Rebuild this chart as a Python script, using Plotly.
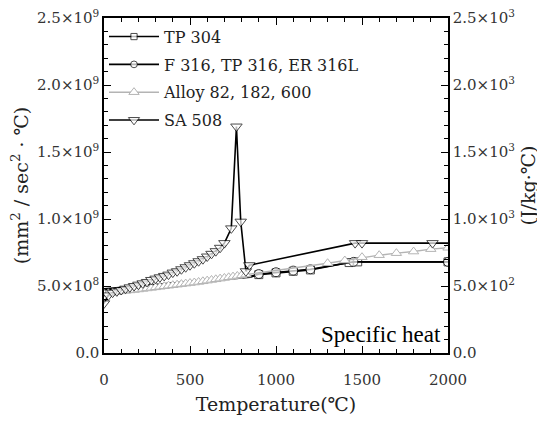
import plotly.graph_objects as go

# ---------------- data ----------------
tp304_T = [0, 850, 900, 1000, 1100, 1200, 1425, 1475, 2000]
tp304_v = [0.47e9, 0.565e9, 0.585e9, 0.598e9, 0.61e9, 0.62e9, 0.675e9, 0.68e9, 0.68e9]

f316_T = [0, 850, 900, 1000, 1100, 1200, 1450, 2000]
f316_v = [0.48e9, 0.57e9, 0.59e9, 0.603e9, 0.615e9, 0.625e9, 0.68e9, 0.68e9]

alloy_T = [0, 25, 50, 75, 100, 125, 150, 175, 200, 225, 250, 275, 300, 325, 350,
           375, 400, 425, 450, 475, 500, 525, 550, 575, 600, 625, 650, 675, 700,
           725, 750, 775, 800, 825, 1300, 1400, 1500, 1600, 1700, 1800, 1900, 2000]
alloy_v = [0.44e9, 0.445e9, 0.45e9, 0.455e9, 0.46e9, 0.463e9, 0.467e9, 0.47e9, 0.474e9,
           0.478e9, 0.482e9, 0.486e9, 0.49e9, 0.494e9, 0.498e9, 0.502e9, 0.506e9,
           0.51e9, 0.514e9, 0.518e9, 0.522e9, 0.526e9, 0.53e9, 0.535e9, 0.54e9,
           0.545e9, 0.55e9, 0.555e9, 0.56e9, 0.565e9, 0.57e9, 0.575e9, 0.58e9,
           0.585e9, 0.67e9, 0.69e9, 0.715e9, 0.73e9, 0.745e9, 0.757e9, 0.775e9, 0.785e9]

sa508_T = [0, 25, 50, 75, 100, 125, 150, 175, 200, 225, 250, 275, 300, 325, 350,
           375, 400, 425, 450, 475, 500, 525, 550, 575, 600, 625, 650, 675, 700,
           740, 770, 795, 825, 845, 1460, 1500, 1910, 2000]
sa508_v = [0.37e9, 0.43e9, 0.45e9, 0.46e9, 0.47e9, 0.48e9, 0.49e9, 0.50e9, 0.51e9,
           0.52e9, 0.53e9, 0.545e9, 0.555e9, 0.565e9, 0.575e9, 0.585e9, 0.60e9,
           0.61e9, 0.625e9, 0.64e9, 0.655e9, 0.67e9, 0.685e9, 0.70e9, 0.72e9,
           0.74e9, 0.76e9, 0.785e9, 0.82e9, 0.93e9, 1.69e9, 0.98e9, 0.61e9, 0.655e9,
           0.82e9, 0.82e9, 0.82e9, 0.82e9]

# marker visibility per point (0 = line only)
tp304_ms = [0, 0, 8, 8, 8, 8, 8, 8, 8]
f316_ms = [0, 0, 9, 9, 9, 9, 9, 9]
sa508_ms = [10] * (len(sa508_T) - 1) + [0]

left_tickvals = [0, 0.5e9, 1.0e9, 1.5e9, 2.0e9, 2.5e9]
left_ticktext = ["0.0", "5.0×10<sup>8</sup>", "1.0×10<sup>9</sup>", "1.5×10<sup>9</sup>",
                 "2.0×10<sup>9</sup>", "2.5×10<sup>9</sup>"]
right_tickvals = [0, 500, 1000, 1500, 2000, 2500]
right_ticktext = ["0.0", "5.0×10<sup>2</sup>", "1.0×10<sup>3</sup>", "1.5×10<sup>3</sup>",
                  "2.0×10<sup>3</sup>", "2.5×10<sup>3</sup>"]
x_tickvals = [0, 500, 1000, 1500, 2000]

FONT = "DejaVu Serif"
GREY = "#b4b4b4"
TXT = "#333"

fig = go.Figure()

fig.add_trace(go.Scatter(
    x=tp304_T, y=tp304_v, name="TP 304", mode="lines+markers", legendgroup="a",
    line=dict(color="black", width=1.6),
    marker=dict(symbol="square", size=tp304_ms, color="white",
                line=dict(width=1, color="black"))))
fig.add_trace(go.Scatter(
    x=f316_T, y=f316_v, name="F 316, TP 316, ER 316L", mode="lines+markers", legendgroup="b",
    line=dict(color="black", width=1.6),
    marker=dict(symbol="circle", size=f316_ms, color="white",
                line=dict(width=1, color="black"))))
fig.add_trace(go.Scatter(
    x=alloy_T, y=alloy_v, name="Alloy 82, 182, 600", mode="lines+markers", legendgroup="c",
    line=dict(color=GREY, width=1.4),
    marker=dict(symbol="triangle-up", size=9, color="white",
                line=dict(width=1, color=GREY))))
fig.add_trace(go.Scatter(
    x=sa508_T, y=sa508_v, name="SA 508", mode="lines+markers", legendgroup="d",
    line=dict(color="black", width=1.6),
    marker=dict(symbol="triangle-down", size=sa508_ms, color="white",
                line=dict(width=1, color="black"))))

# invisible anchor trace for the right axis
fig.add_trace(go.Scatter(x=[0], y=[0], yaxis="y2", mode="markers",
                         marker=dict(opacity=0), showlegend=False, hoverinfo="skip"))

fig.add_annotation(text="Specific heat", x=0.985, y=0.012, xref="paper", yref="paper",
                   xanchor="right", yanchor="bottom", showarrow=False,
                   font=dict(family="Liberation Serif", size=23, color="black"))

axis_common = dict(showgrid=False, zeroline=False, showline=True, linecolor="black",
                   linewidth=1.5, ticks="inside", ticklen=7, tickcolor="black",
                   automargin=False, ticklabeloverflow="allow",
                   tickfont=dict(family=FONT, size=15, color=TXT))

# page body has an 8px default margin, so the figure is sized to fit the window
fig.update_layout(
    width=537, height=413,
    margin=dict(l=96, r=97, t=10, b=68),
    paper_bgcolor="white", plot_bgcolor="white",
    font=dict(family=FONT, color="black"),
    xaxis=dict(range=[0, 2000], tickvals=x_tickvals, mirror="ticks",
               ticklabelstandoff=12,
               minor=dict(dtick=100, ticks="inside", ticklen=4, tickcolor="black"),
               title=dict(text="Temperature(℃)", font=dict(family=FONT, size=19, color="#222"),
                          standoff=10),
               **axis_common),
    yaxis=dict(range=[0, 2.5e9], tickvals=left_tickvals, ticktext=left_ticktext,
               minor=dict(dtick=1e8, ticks="inside", ticklen=4, tickcolor="black"),
               title=dict(text="(mm<sup>2</sup> / sec<sup>2</sup> · ℃)",
                          font=dict(family=FONT, size=19, color="#222"), standoff=8),
               **axis_common),
    yaxis2=dict(range=[0, 2500], tickvals=right_tickvals, ticktext=right_ticktext,
                overlaying="y", side="right", anchor="x",
                minor=dict(dtick=100, ticks="inside", ticklen=4, tickcolor="black"),
                title=dict(text="(J/kg·℃)", font=dict(family=FONT, size=19, color="#222"),
                           standoff=8),
                **axis_common),
    legend=dict(x=0.0, y=0.995, xanchor="left", yanchor="top",
                bgcolor="rgba(255,255,255,0)", borderwidth=0,
                font=dict(family=FONT, size=16, color="#222"),
                tracegroupgap=4, itemwidth=50),
    showlegend=True,
)

fig.write_html("out.html")
